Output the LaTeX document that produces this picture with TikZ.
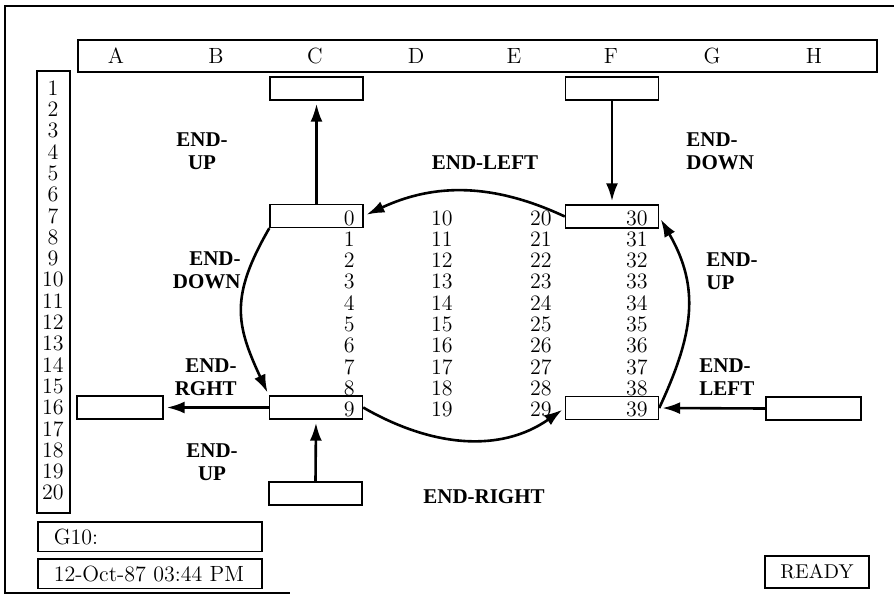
\documentclass[tikz,border=0pt]{standalone}
\usepackage{fontspec}
\usetikzlibrary{arrows.meta}
\newfontfamily\keyfont{Liberation Serif}

\tikzset{
  sheet/.style={draw=black, line width=0.75pt},
  cell/.style={draw=black, line width=0.7pt, inner sep=0pt, minimum width=46.5pt, minimum height=11.5pt},
  grid/.style={font=\fontsize{11}{13}\selectfont, inner sep=0pt},
  key/.style={font=\keyfont\bfseries\fontsize{10.5}{11.5}\selectfont, inner sep=0pt},
  panel/.style={draw=black, line width=0.75pt, font=\fontsize{11}{13}\selectfont, anchor=north west,
    minimum height=14.75pt, text width=96pt, inner xsep=8pt, inner ysep=0pt, align=left},
  move/.style={line width=1.3pt, -{Latex[length=9pt, width=6pt]}, shorten >=1.5pt},
}

\begin{document}
\begin{tikzpicture}[x=0.5pt, y=0.5pt]
  \useasboundingbox (0,0) rectangle (894,-595);

  % Screen frame
  \draw[line width=0.9pt] (894,-6) -- (5,-6) -- (5,-593) -- (290,-593);

  % 1. COLUMN HEADER BAR
  \draw[sheet] (78,-40) rectangle (877,-72);
  \foreach \col/\x in {A/116, B/216, C/315, D/416, E/514, F/611, G/712, H/814}
    \node[grid] (hd\col) at (\x,-56) {\col};

  % 2. ROW NUMBERS
  \draw[sheet] (37,-71) rectangle (70,-513);
  \foreach \r in {1,...,20}
    \node[grid] (row\r) at (53,{-88-21.3*(\r-1)}) {\r};

  % 3. CELL VALUES (columns C to F, rows 7 to 16)
  \foreach \col/\x/\base in {C/355/0, D/453/10, E/552/20, F/648/30}
    \foreach \k in {0,...,9} {
      \pgfmathtruncatemacro{\val}{\base+\k}
      \node[grid, anchor=east] (v\col\k) at (\x,{-218-21.3*\k}) {\val};
    }

  % 4. POINTER CELLS
  \node[cell] (c1) at (316.5,-88.5) {};
  \node[cell] (f1) at (612,-88.5) {};
  \node[cell] (c7) at (316.5,-216) {};
  \node[cell] (f7) at (612,-216.5) {};
  \node[cell, minimum width=43pt] (a16) at (120,-407.5) {};
  \node[cell] (c16) at (316,-407.5) {};
  \node[cell] (f16) at (612,-408) {};
  \node[cell, minimum width=47.5pt] (h16) at (813.5,-408.5) {};
  \node[cell] (c20) at (315.5,-493.5) {};

  % 5. KEY LABELS
  \node[key, align=center] (upC) at (202,-151) {END-\\UP};
  \node[key] (leftTop) at (485,-163) {END-LEFT};
  \node[key, align=left, anchor=west] (downF) at (686,-151) {END-\\DOWN};
  \node[key, align=right, anchor=east] (downC) at (241,-270) {END-\\DOWN};
  \node[key, align=left, anchor=west] (upF) at (706,-271) {END-\\UP};
  \node[key, align=right, anchor=east] (rghtC) at (237,-377) {END-\\RGHT};
  \node[key, align=left, anchor=west] (leftH) at (699,-377) {END-\\LEFT};
  \node[key, align=center] (upBot) at (212,-462) {END-\\UP};
  \node[key] (rightBot) at (484,-497) {END-RIGHT};

  % 6. MOVES
  \draw[move] (c7.north) -- (c1.south);
  \draw[move] (f1.south) -- (f7.north);
  \draw[move] (f7.west) to[out=155, in=25] (c7.east);
  \draw[move] (c7.south west) to[out=-120, in=115, looseness=1.2] (c16.north west);
  \draw[move] (c16.west) -- (a16.east);
  \draw[move] (c20.north) -- (c16.south);
  \draw[move] (c16.east) to[out=-30, in=-145] (f16.west);
  \draw[move] (h16.west) -- (f16.east);
  \draw[move] (f16.east) to[out=65, in=-60, looseness=1.1] (f7.east);

  % 7. STATUS LINES
  \node[panel] (cellid) at (37,-521) {G10:};
  \node[panel] (clock) at (37,-558) {12-Oct-87 03:44 PM};
  \node[draw=black, line width=0.75pt, font=\fontsize{10}{12}\selectfont, inner sep=0pt,
    minimum width=52pt, minimum height=16pt] (mode) at (817,-572) {READY};

\end{tikzpicture}
\end{document}
